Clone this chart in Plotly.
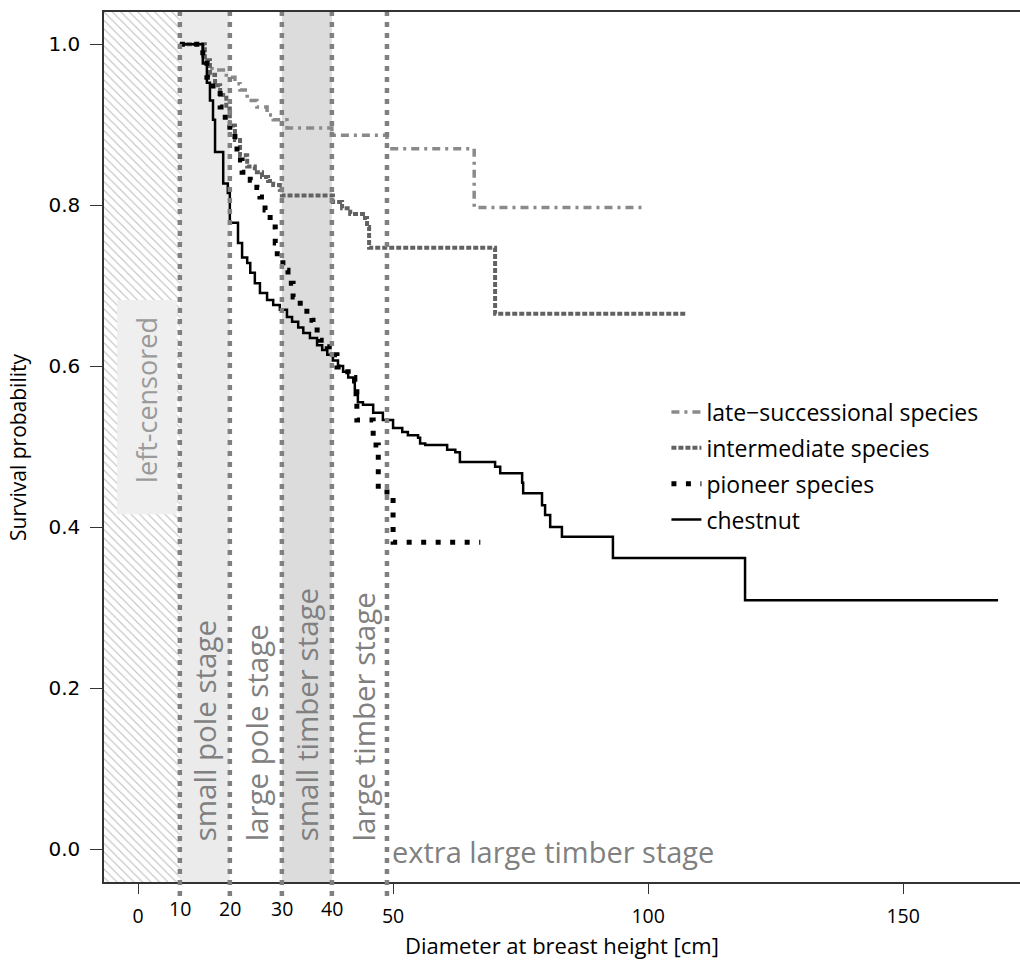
import plotly.graph_objects as go

# ---------------- data ----------------
late_x = [8.2, 12.7, 13.5, 14.5, 17.3, 19.0, 20.0, 21.4, 23.3, 25.3, 26.5, 29.2, 38.0, 48.8, 65.9, 99.0]
late_y = [1.0, 0.985, 0.975, 0.968, 0.959, 0.951, 0.943, 0.930, 0.922, 0.912, 0.906, 0.896, 0.887, 0.870, 0.797, 0.797]

inter_x = [8.2, 13.1, 14.1, 15.1, 16.1, 17.3, 18.0, 19.0, 20.0, 21.4, 22.9, 24.3, 25.5, 26.5, 27.8, 28.2,
           38.2, 40.0, 41.6, 44.1, 44.9, 45.3, 70.0, 107.3]
inter_y = [1.0, 0.980, 0.962, 0.949, 0.937, 0.920, 0.899, 0.881, 0.862, 0.848, 0.841, 0.835, 0.830, 0.825, 0.819, 0.812,
           0.804, 0.796, 0.789, 0.784, 0.773, 0.747, 0.665, 0.665]

pion_x = [8.2, 12.7, 13.5, 14.7, 16.1, 17.1, 18.0, 19.0, 19.4, 20.4, 22.0, 23.3, 23.9, 24.9, 25.9, 26.9, 27.3,
          28.4, 29.4, 30.4, 31.8, 33.1, 34.1, 34.3, 35.7, 37.1, 38.2, 39.0, 40.6, 41.2, 42.5, 42.9, 46.1, 47.1, 50.0, 67.1]
pion_y = [1.0, 0.980, 0.959, 0.943, 0.922, 0.902, 0.893, 0.877, 0.856, 0.841, 0.831, 0.822, 0.810, 0.794, 0.773, 0.753, 0.732,
          0.719, 0.703, 0.686, 0.673, 0.663, 0.657, 0.645, 0.632, 0.624, 0.614, 0.599, 0.593, 0.586, 0.579, 0.533, 0.502, 0.4435, 0.381, 0.381]

chest_x = [8.2, 12.7, 13.5, 14.1, 14.7, 15.1, 16.7, 17.6, 18.0, 19.6, 20.4, 21.4, 22.0, 22.9, 23.9, 25.3, 26.5,
           27.8, 29.2, 30.2, 31.4, 32.4, 33.7, 35.1, 36.1, 37.1, 38.2, 39.2, 40.2, 41.2, 42.2, 42.5, 43.1,
           44.1, 46.1, 48.0, 50.0, 51.8, 52.9, 54.9, 55.3, 56.3, 60.6, 62.2, 63.1, 70.0, 71.0, 75.3, 75.5,
           79.2, 79.8, 80.8, 83.1, 93.1, 119.0, 168.6]
chest_y = [1.0, 0.976, 0.952, 0.930, 0.906, 0.866, 0.827, 0.815, 0.778, 0.753, 0.735, 0.728, 0.716, 0.703, 0.691, 0.682, 0.676,
           0.670, 0.661, 0.655, 0.648, 0.641, 0.635, 0.626, 0.620, 0.614, 0.607, 0.600, 0.593, 0.586, 0.580, 0.564, 0.555,
           0.552, 0.542, 0.533, 0.523, 0.518, 0.514, 0.511, 0.504, 0.502, 0.496, 0.493, 0.481, 0.475, 0.467, 0.455, 0.442,
           0.427, 0.415, 0.400, 0.388, 0.3615, 0.309, 0.309]

series_names = ["late\u2212successional species", "intermediate species", "pioneer species", "chestnut"]

stage_edges = [8.2, 18.0, 28.2, 38.0, 48.8]
stage_edge_labels = ["10", "20", "30", "40"]
stage_names = ["small pole stage", "large pole stage", "small timber stage", "large timber stage"]
stage_label_x = [13.1, 23.3, 33.1, 44.1]
last_stage_name = "extra large timber stage"

x_ticks = [0, 50, 100, 150]
y_ticks = [0.0, 0.2, 0.4, 0.6, 0.8, 1.0]

X_RANGE = [-6.67, 172.9]
Y_RANGE = [-0.041, 1.04]

FONT = "Open Sans"
GRAY_TXT = "#808080"

fig = go.Figure()

# hatched left-censored region
fig.add_trace(go.Bar(
    x=[(X_RANGE[0] + stage_edges[0]) / 2], y=[Y_RANGE[1] - Y_RANGE[0]], base=[Y_RANGE[0]],
    width=[stage_edges[0] - X_RANGE[0]],
    marker=dict(color="white", line_width=0,
                pattern=dict(shape="\\", fgcolor="#7a7a7a", bgcolor="white", size=6, solidity=0.18)),
    showlegend=False, hoverinfo="skip"))

# curves
styles = [
    dict(color="#8a8a8a", width=3.5, dash="8px,5px,3px,5px"),
    dict(color="#626262", width=4, dash="5px,2px"),
    dict(color="black", width=5, dash="5px,9.5px"),
    dict(color="black", width=2.5),
]
for i, (xs, ys) in enumerate([(late_x, late_y), (inter_x, inter_y), (pion_x, pion_y), (chest_x, chest_y)]):
    fig.add_trace(go.Scatter(x=xs, y=ys, mode="lines", line_shape="hv", line=styles[i],
                             name=series_names[i], legendgroup="g%d" % i))

shapes = []
shapes.append(dict(type="rect", xref="x", yref="y", x0=stage_edges[0], x1=stage_edges[1],
                   y0=Y_RANGE[0], y1=Y_RANGE[1], fillcolor="#ebebeb", line_width=0, layer="below"))
shapes.append(dict(type="rect", xref="x", yref="y", x0=stage_edges[2], x1=stage_edges[3],
                   y0=Y_RANGE[0], y1=Y_RANGE[1], fillcolor="#dcdcdc", line_width=0, layer="below"))
shapes.append(dict(type="rect", xref="x", yref="y", x0=-4.1, x1=7.6, y0=0.416, y1=0.682,
                   fillcolor="#efefef", line_width=0, layer="above"))
for xe in stage_edges:
    shapes.append(dict(type="line", xref="x", yref="paper", x0=xe, x1=xe, y0=-0.016, y1=1.0,
                       line=dict(color="#808080", width=4.5, dash="5px,6px"), layer="above"))

annotations = []
for xe, lab in zip(stage_edges[:4], stage_edge_labels):
    annotations.append(dict(x=xe, y=-0.030, xref="x", yref="paper", text=lab, showarrow=False,
                            font=dict(family=FONT, size=19.5, color="black"), yanchor="middle"))
for xl, nm in zip(stage_label_x, stage_names):
    annotations.append(dict(x=xl, y=0.0075, xref="x", yref="y", text=nm, showarrow=False, textangle=-90,
                            xanchor="center", yanchor="bottom",
                            font=dict(family=FONT, size=29.5, color=GRAY_TXT)))
annotations.append(dict(x=stage_edges[4] + 0.6, y=-0.0025, xref="x", yref="y", text=last_stage_name,
                        showarrow=False, xanchor="left", yanchor="middle",
                        font=dict(family=FONT, size=29, color=GRAY_TXT)))
annotations.append(dict(x=1.76, y=0.558, xref="x", yref="y", text="left-censored", showarrow=False,
                        textangle=-90, font=dict(family=FONT, size=27, color="#9a9a9a")))
# axis titles
annotations.append(dict(x=0.5, y=-0.0725, xref="paper", yref="paper", text="Diameter at breast height [cm]",
                        showarrow=False, xanchor="center", yanchor="middle",
                        font=dict(family=FONT, size=22, color="black")))
annotations.append(dict(x=-0.0939, y=0.5, xref="paper", yref="paper", text="Survival probability",
                        showarrow=False, textangle=-90, xanchor="center", yanchor="middle",
                        font=dict(family=FONT, size=21, color="black")))

fig.update_layout(
    width=1020, height=961,
    margin=dict(l=104, r=0, t=12, b=79, autoexpand=False),
    plot_bgcolor="white", paper_bgcolor="white",
    shapes=shapes, annotations=annotations,
    showlegend=True,
    legend=dict(x=0.614, y=0.565, xanchor="left", yanchor="top", bgcolor="rgba(0,0,0,0)",
                font=dict(family=FONT, size=23, color="black"), tracegroupgap=3),
    font=dict(family=FONT, color="black"),
    bargap=0,
)
fig.update_xaxes(range=X_RANGE, tickvals=x_ticks, ticktext=[str(v) for v in x_ticks],
                 showgrid=False, zeroline=False, showline=True, mirror=True, linecolor="#333333",
                 linewidth=1.5, ticks="outside", ticklen=10, tickcolor="#333333", automargin=False,
                 ticklabelstandoff=6,
                 tickfont=dict(family=FONT, size=19.5, color="black"))
fig.update_yaxes(range=Y_RANGE, tickvals=y_ticks, tickformat=".1f",
                 showgrid=False, zeroline=False, showline=True, linecolor="#333333", linewidth=1.5,
                 ticks="outside", ticklen=12, tickcolor="#333333", automargin=False,
                 ticklabelstandoff=6,
                 tickfont=dict(family="DejaVu Sans", size=20, color="black"))

fig.write_html("out.html", config={"displayModeBar": False},
               post_script="document.body.style.margin='0px';document.body.style.overflow='hidden';")
